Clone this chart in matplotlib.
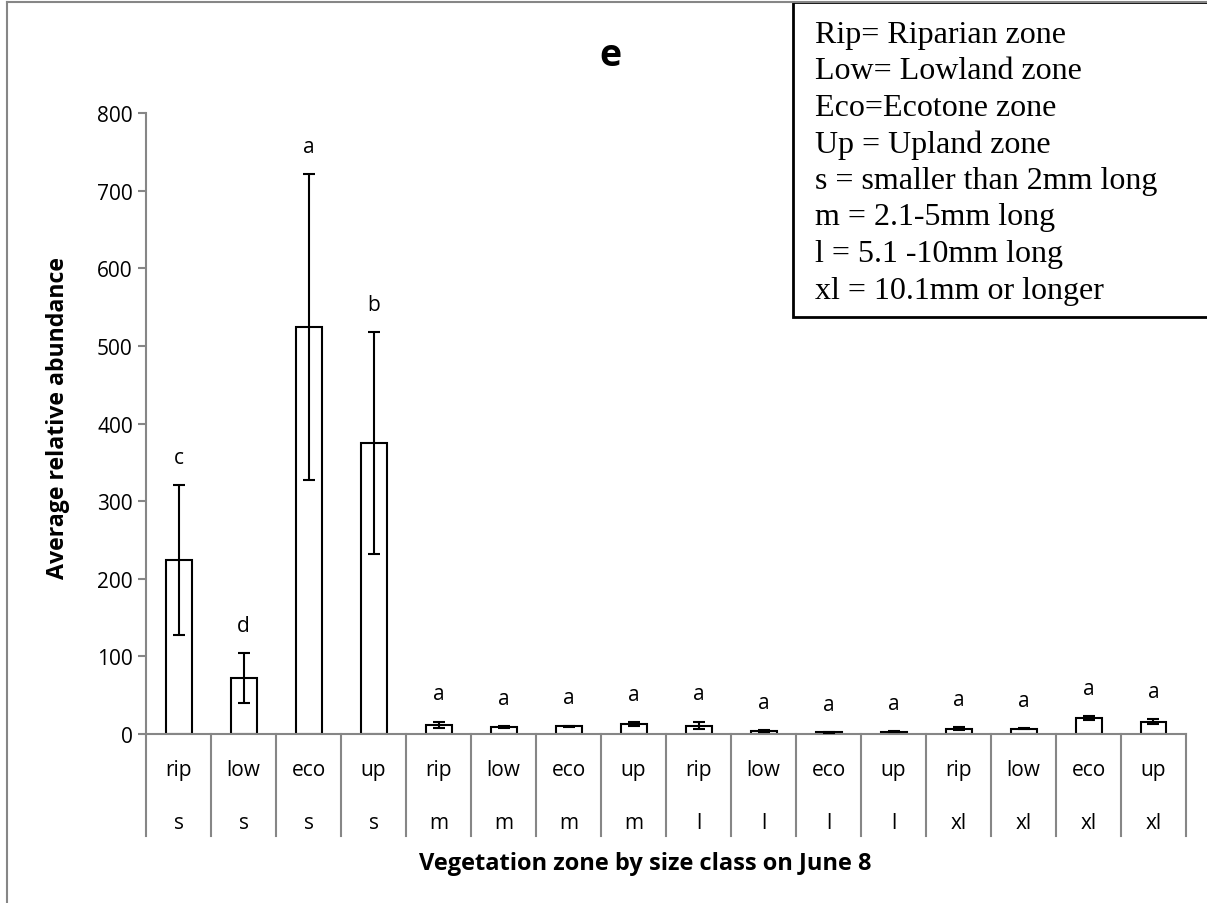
import numpy as np
import matplotlib.pyplot as plt
from matplotlib.patches import Rectangle
from matplotlib.lines import Line2D

# datos
zonas = ['rip', 'low', 'eco', 'up'] * 4
tamanos = ['s'] * 4 + ['m'] * 4 + ['l'] * 4 + ['xl'] * 4
medias = [224, 72, 525, 375, 12, 9, 10, 13, 11, 4, 2, 3, 7, 7, 20.5, 16]
errores = [97, 32, 197, 143, 4, 1, 1, 2, 5, 1, 0.5, 0.5, 2, 1, 3, 3]
letras = ['c', 'd', 'a', 'b'] + ['a'] * 12
leyenda = ['Rip= Riparian zone', 'Low= Lowland zone', 'Eco=Ecotone zone',
           'Up = Upland zone', 's = smaller than 2mm long', 'm = 2.1-5mm long',
           'l = 5.1 -10mm long', 'xl = 10.1mm or longer']

plt.rcParams['font.family'] = ['Open Sans', 'DejaVu Sans']
gris = '#868686'

fig = plt.figure(figsize=(12.07, 9.04), dpi=100)
ax = fig.add_axes([0.121, 0.1869, 0.8616, 0.6867])

x = np.arange(len(medias))
ax.bar(x, medias, width=0.4, color='white', edgecolor='black', linewidth=1.5, zorder=2)
ax.errorbar(x, medias, yerr=errores, fmt='none', ecolor='black', elinewidth=1.5,
            capsize=4, capthick=1.5, zorder=3)

for i in range(len(medias)):
    ax.annotate(letras[i], (x[i], medias[i] + errores[i]), xytext=(0, 20),
                textcoords='offset points', ha='center', va='center', fontsize=15)

ax.set_xlim(-0.5, len(medias) - 0.5)
ax.set_ylim(0, 800)
ax.set_yticks(np.arange(0, 801, 100))
ax.tick_params(axis='y', labelsize=15, color=gris, length=6, width=1.5, direction='out')
ax.set_xticks([])
for lado in ['top', 'right']:
    ax.spines[lado].set_visible(False)
for lado in ['left', 'bottom']:
    ax.spines[lado].set_color(gris)
    ax.spines[lado].set_linewidth(1.5)

# tabla de categorias debajo del eje
for k in range(len(medias) + 1):
    ax.plot([k - 0.5, k - 0.5], [0, -0.164], color=gris, lw=1.5,
            transform=ax.get_xaxis_transform(), clip_on=False)
for i in range(len(medias)):
    ax.text(x[i], -0.0564, zonas[i], ha='center', va='center', fontsize=15,
            transform=ax.get_xaxis_transform())
    ax.text(x[i], -0.1417, tamanos[i], ha='center', va='center', fontsize=15,
            transform=ax.get_xaxis_transform())

fig.text(0.048, 1 - 418 / 904, 'Average relative abundance', rotation=90, ha='center',
         va='center', fontsize=16.7, fontweight='bold')
fig.text(0.535, 1 - 864 / 904, 'Vegetation zone by size class on June 8', ha='center',
         va='center', fontsize=17, fontweight='bold')
fig.text(0.506, 1 - 56 / 904, 'e', ha='center', va='center', fontsize=27,
         fontweight='bold')

# marco gris de la figura
fig.add_artist(Line2D([7 / 1207, 7 / 1207], [0, 1 - 3 / 904], color=gris, lw=1.5))
fig.add_artist(Line2D([7 / 1207, 1], [1 - 3 / 904, 1 - 3 / 904], color=gris, lw=1.5))

# cuadro de leyenda
fig.add_artist(Rectangle((793 / 1207, 1 - 318 / 904), 0.4, 315 / 904,
                         transform=fig.transFigure, facecolor='white',
                         edgecolor='black', lw=2))
for i, linea in enumerate(leyenda):
    fig.text(815 / 1207, 1 - (35 + 36.6 * i) / 904, linea, ha='left', va='center',
             fontsize=23, family='Liberation Serif')

fig.savefig('out.png', dpi=100)
